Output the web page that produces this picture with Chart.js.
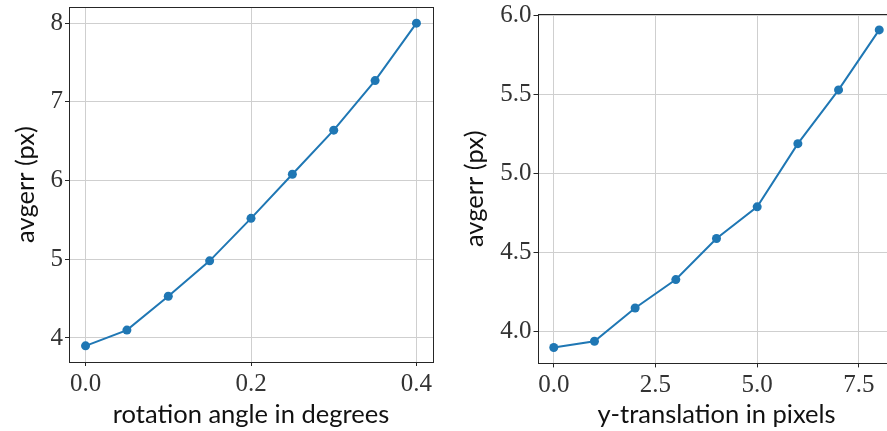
<!DOCTYPE html>
<html><head><meta charset="utf-8">
<script src="https://cdn.jsdelivr.net/npm/chart.js@4"></script>
<style>
html,body{margin:0;padding:0;overflow:hidden;background:#fff;width:887px;height:431px;}
#w1{position:absolute;left:0;top:0;width:440px;height:431px;}
#w2{position:absolute;left:440px;top:0;width:460px;height:431px;}
</style></head><body>
<div id="w1"><canvas id="c1"></canvas></div>
<div id="w2"><canvas id="c2"></canvas></div>
<script>
// data
const rotX = [0, 0.05, 0.1, 0.15, 0.2, 0.25, 0.3, 0.35, 0.4];
const rotErr = [3.90, 4.10, 4.53, 4.98, 5.52, 6.08, 6.64, 7.27, 8.00];
const transX = [0, 1, 2, 3, 4, 5, 6, 7, 8];
const transErr = [3.90, 3.94, 4.15, 4.33, 4.59, 4.79, 5.19, 5.53, 5.91];
const rotXTicks = [0, 0.2, 0.4];
const rotYTicks = [4, 5, 6, 7, 8];
const transXTicks = [0, 2.5, 5, 7.5];
const transYTicks = [4.0, 4.5, 5.0, 5.5, 6.0];
const rotXLabel = 'rotation angle in degrees';
const transXLabel = 'y-translation in pixels';
const yLabel = 'avgerr (px)';

const BLUE = '#1f77b4';
const GRID = '#cfcfcf';
const SPINE = '#262626';
const SERIF = '"Liberation Serif", "DejaVu Serif", serif';
const xTickFont = {family: SERIF, size: 25, lineHeight: 1.2};
const yTickFont = {family: SERIF, size: 25, lineHeight: 0.4};
const titleFont = {family: 'Lato, "Open Sans", sans-serif', size: 25.5, lineHeight: 1.2};

const boxPlugin = {
  id: 'box',
  afterDraw(chart) {
    const a = chart.chartArea, ctx = chart.ctx;
    ctx.save();
    ctx.strokeStyle = SPINE;
    ctx.lineWidth = 1;
    ctx.strokeRect(Math.round(a.left) + 0.5, Math.round(a.top) + 0.5,
                   Math.round(a.right - a.left), Math.round(a.bottom - a.top));
    ctx.restore();
  }
};

function makeChart(id, xs, ys, xr, yr, xt, yt, xfmt, yfmt, xlab, pad, yW, xH, yTitlePad) {
  return new Chart(document.getElementById(id), {
    type: 'line',
    data: {datasets: [{
      data: xs.map((x, i) => ({x: x, y: ys[i]})),
      borderColor: BLUE, backgroundColor: BLUE, borderWidth: 2,
      pointRadius: 4.5, pointBorderWidth: 0, pointBackgroundColor: BLUE,
      tension: 0, fill: false
    }]},
    options: {
      responsive: true, maintainAspectRatio: false, animation: false,
      layout: {padding: pad},
      plugins: {legend: {display: false}, tooltip: {enabled: false}},
      scales: {
        x: {
          type: 'linear', min: xr[0], max: xr[1],
          afterBuildTicks: s => { s.ticks = xt.map(v => ({value: v})); },
          afterFit: s => { s.height = xH; },
          grid: {color: GRID, lineWidth: 1, tickLength: 4, tickColor: SPINE, drawTicks: true},
          border: {display: false},
          ticks: {autoSkip: false, maxRotation: 0, padding: 3, color: '#333', font: xTickFont,
                  callback: v => xfmt(v)},
          title: {display: true, text: xlab, color: '#111', font: titleFont, padding: {top: 0, bottom: 1}}
        },
        y: {
          type: 'linear', min: yr[0], max: yr[1],
          afterBuildTicks: s => { s.ticks = yt.map(v => ({value: v})); },
          afterFit: s => { s.width = yW; },
          grid: {color: GRID, lineWidth: 1, tickLength: 4, tickColor: SPINE, drawTicks: true},
          border: {display: false},
          ticks: {autoSkip: false, padding: 2, color: '#333', font: yTickFont,
                  callback: v => yfmt(v)},
          title: {display: true, text: yLabel, color: '#111', font: titleFont, padding: {top: yTitlePad, bottom: 0}}
        }
      }
    },
    plugins: [boxPlugin]
  });
}

makeChart('c1', rotX, rotErr, [-0.02, 0.42], [3.695, 8.205], rotXTicks, rotYTicks,
  v => v.toFixed(1), v => String(v), rotXLabel,
  {top: 7, right: 7, left: 0, bottom: 0}, 69, 69, 10.5);
makeChart('c2', transX, transErr, [-0.4, 8.4], [3.7995, 6.0105], transXTicks, transYTicks,
  v => v.toFixed(1), v => v.toFixed(1), transXLabel,
  {top: 14, right: 4, left: 0, bottom: 0}, 97.5, 67.6, 19.5);
</script>
</body></html>
